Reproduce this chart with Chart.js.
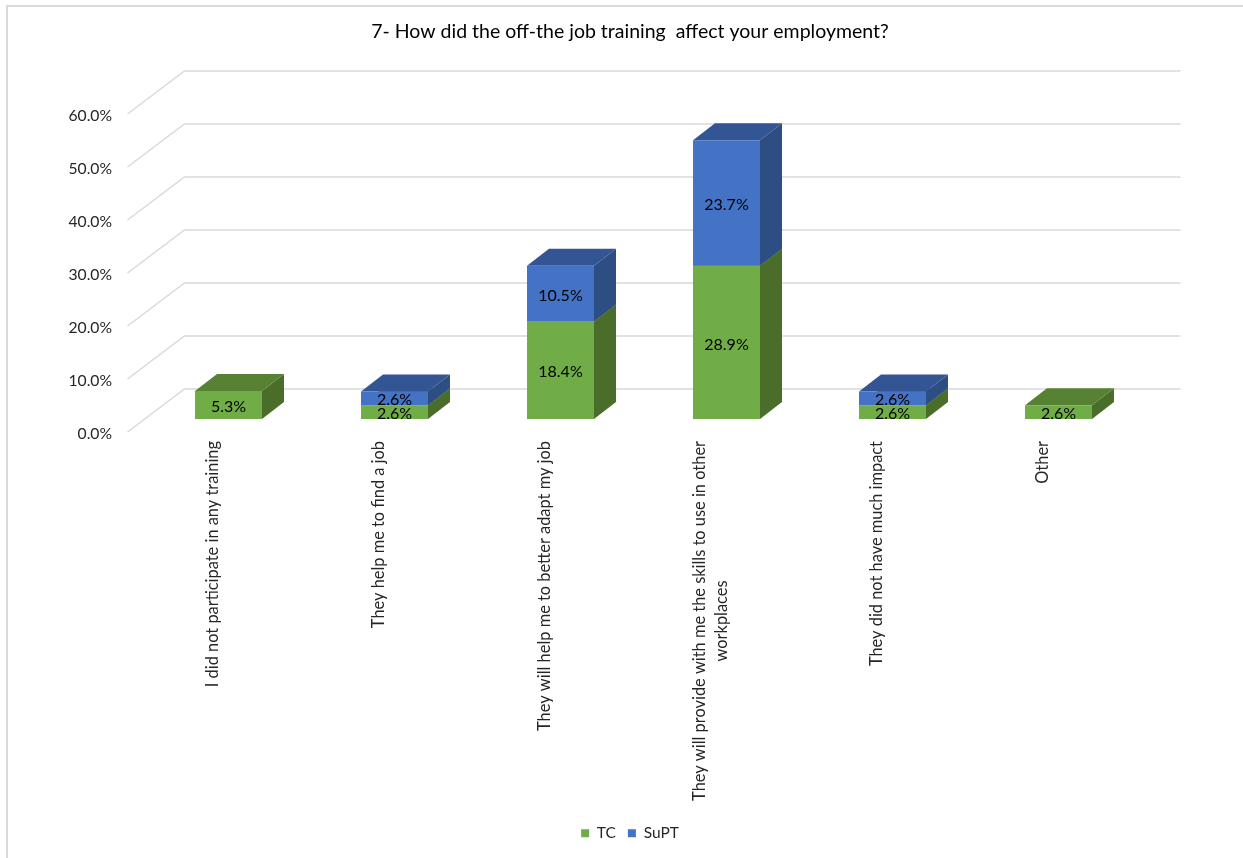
<!DOCTYPE html>
<html>
<head>
<meta charset="utf-8">
<script src="https://cdn.jsdelivr.net/npm/chart.js@4/dist/chart.umd.min.js"></script>
<style>
  html, body { margin: 0; padding: 0; background: #fff; }
  #wrap { position: absolute; left: 6px; top: 5px; width: 1237px; height: 853px; box-sizing: border-box; border-left: 2px solid #d9d9d9; border-top: 2px solid #d9d9d9; }
  canvas { position: absolute; left: 0; top: 0; }
</style>
</head>
<body>
<div id="wrap"><canvas id="chart" width="1235" height="851"></canvas></div>
<script>
var categories = [
  "I did not participate in any training",
  "They help me to find a job",
  "They will help me to better adapt my job",
  ["They will provide with me the skills to use in other", "workplaces"],
  "They did not have much impact",
  "Other"
];
var tcValues = [5.3, 2.6, 18.4, 28.9, 2.6, 2.6];
var suptValues = [null, 2.6, 10.5, 23.7, 2.6, null];
var seriesNames = ["TC", "SuPT"];
var titleText = "7- How did the off-the job training  affect your employment?";

var fontName = "Lato, 'Liberation Sans', sans-serif";
var barDepth = { x: 22, y: 17 };
var wallDepth = { x: 39, y: 30 };
var floorFront = { x: 18, y: 13 };
var faceColors = [
  { top: "#578233", side: "#4a6e2a" },
  { top: "#335593", side: "#2c4e82" }
];

function fillPoly(ctx, pts, color) {
  ctx.fillStyle = color;
  ctx.beginPath();
  ctx.moveTo(pts[0][0], pts[0][1]);
  for (var i = 1; i < pts.length; i++) ctx.lineTo(pts[i][0], pts[i][1]);
  ctx.closePath();
  ctx.fill();
}

var depthPlugin = {
  id: "depth",
  beforeDatasetsDraw: function(chart) {
    var ctx = chart.ctx, area = chart.chartArea, y = chart.scales.y;
    ctx.save();
    // back wall and side wall lines
    ctx.strokeStyle = "#d9d9d9";
    ctx.lineWidth = 1.5;
    y.ticks.forEach(function(t) {
      var py = y.getPixelForValue(t.value);
      ctx.beginPath();
      ctx.moveTo(area.left - floorFront.x, py + floorFront.y);
      ctx.lineTo(area.left + wallDepth.x, py - wallDepth.y);
      ctx.lineTo(area.right + wallDepth.x, py - wallDepth.y);
      ctx.stroke();
    });
    // top and side of each bar, lower segment first
    chart.data.datasets.forEach(function(ds, d) {
      chart.getDatasetMeta(d).data.forEach(function(bar, i) {
        if (ds.data[i] == null) return;
        var half = bar.width / 2, l = bar.x - half, r = bar.x + half;
        var dx = barDepth.x, dy = barDepth.y;
        fillPoly(ctx, [[r, bar.y], [r + dx, bar.y - dy], [r + dx, bar.base - dy], [r, bar.base]], faceColors[d].side);
        fillPoly(ctx, [[l, bar.y], [l + dx, bar.y - dy], [r + dx, bar.y - dy], [r, bar.y]], faceColors[d].top);
      });
    });
    ctx.restore();
  },
  afterDatasetsDraw: function(chart) {
    var ctx = chart.ctx;
    ctx.save();
    ctx.font = "16px " + fontName;
    ctx.fillStyle = "#000";
    ctx.textAlign = "center";
    ctx.textBaseline = "middle";
    chart.data.datasets.forEach(function(ds, d) {
      chart.getDatasetMeta(d).data.forEach(function(bar, i) {
        if (ds.data[i] == null) return;
        ctx.fillText(ds.data[i].toFixed(1) + "%", bar.x, (bar.y + bar.base) / 2 + 2);
      });
    });
    ctx.restore();
  },
  afterDraw: function(chart) {
    // rotated category labels, centred line by line like the original
    var ctx = chart.ctx, x = chart.scales.x, lh = 22;
    var topY = chart.chartArea.bottom + 22;
    ctx.save();
    ctx.font = "16.4px " + fontName;
    ctx.fillStyle = "#262626";
    ctx.textBaseline = "middle";
    categories.forEach(function(lab, i) {
      var lines = Array.isArray(lab) ? lab : [lab];
      var cx = x.getPixelForTick(i) - 16;
      var blockWidth = Math.max.apply(null, lines.map(function(s) { return ctx.measureText(s).width; }));
      lines.forEach(function(line, j) {
        ctx.save();
        ctx.translate(cx + (j - (lines.length - 1) / 2) * lh, topY + blockWidth / 2);
        ctx.rotate(-Math.PI / 2);
        ctx.textAlign = "center";
        ctx.fillText(line, 0, 0);
        ctx.restore();
      });
    });
    ctx.restore();
  }
};

new Chart(document.getElementById("chart"), {
  type: "bar",
  data: {
    labels: categories,
    datasets: [
      { label: seriesNames[0], data: tcValues, backgroundColor: "#70ad47", stack: "s", barPercentage: 1, categoryPercentage: 67 / 166 },
      { label: seriesNames[1], data: suptValues, backgroundColor: "#4472c4", stack: "s", barPercentage: 1, categoryPercentage: 67 / 166 }
    ]
  },
  options: {
    responsive: false,
    animation: false,
    layout: { autoPadding: false, padding: { top: 0, left: 9, right: 0, bottom: 7 } },
    plugins: {
      title: {
        display: true,
        text: titleText,
        color: "#000",
        font: { family: fontName, size: 19.5, weight: "normal" },
        padding: { top: 13, bottom: 57.6 }
      },
      legend: {
        position: "bottom",
        labels: {
          boxWidth: 8, boxHeight: 8, padding: 12, color: "#262626",
          font: { family: fontName, size: 15.5 }
        }
      },
      tooltip: { enabled: false }
    },
    scales: {
      x: {
        stacked: true,
        grid: { display: false, drawTicks: false },
        border: { display: false },
        ticks: { display: false },
        afterFit: function(scale) { scale.height = 394.5; }
      },
      y: {
        stacked: true,
        min: 0,
        max: 60,
        grid: { display: false, drawTicks: false },
        border: { display: false },
        ticks: {
          stepSize: 10,
          padding: 33.5,
          labelOffset: 15,
          color: "#262626",
          font: { family: fontName, size: 15.7 },
          callback: function(v) { return v.toFixed(1) + "%"; }
        },
        afterFit: function(scale) { scale.width = 128.5; }
      },
      // empty axis, only keeps the wall's depth free on the right
      rightGap: {
        type: "linear",
        position: "right",
        grid: { display: false, drawTicks: false },
        border: { display: false },
        ticks: { display: false },
        afterFit: function(scale) { scale.width = 101.5; }
      }
    }
  },
  plugins: [depthPlugin]
});
</script>
</body>
</html>
